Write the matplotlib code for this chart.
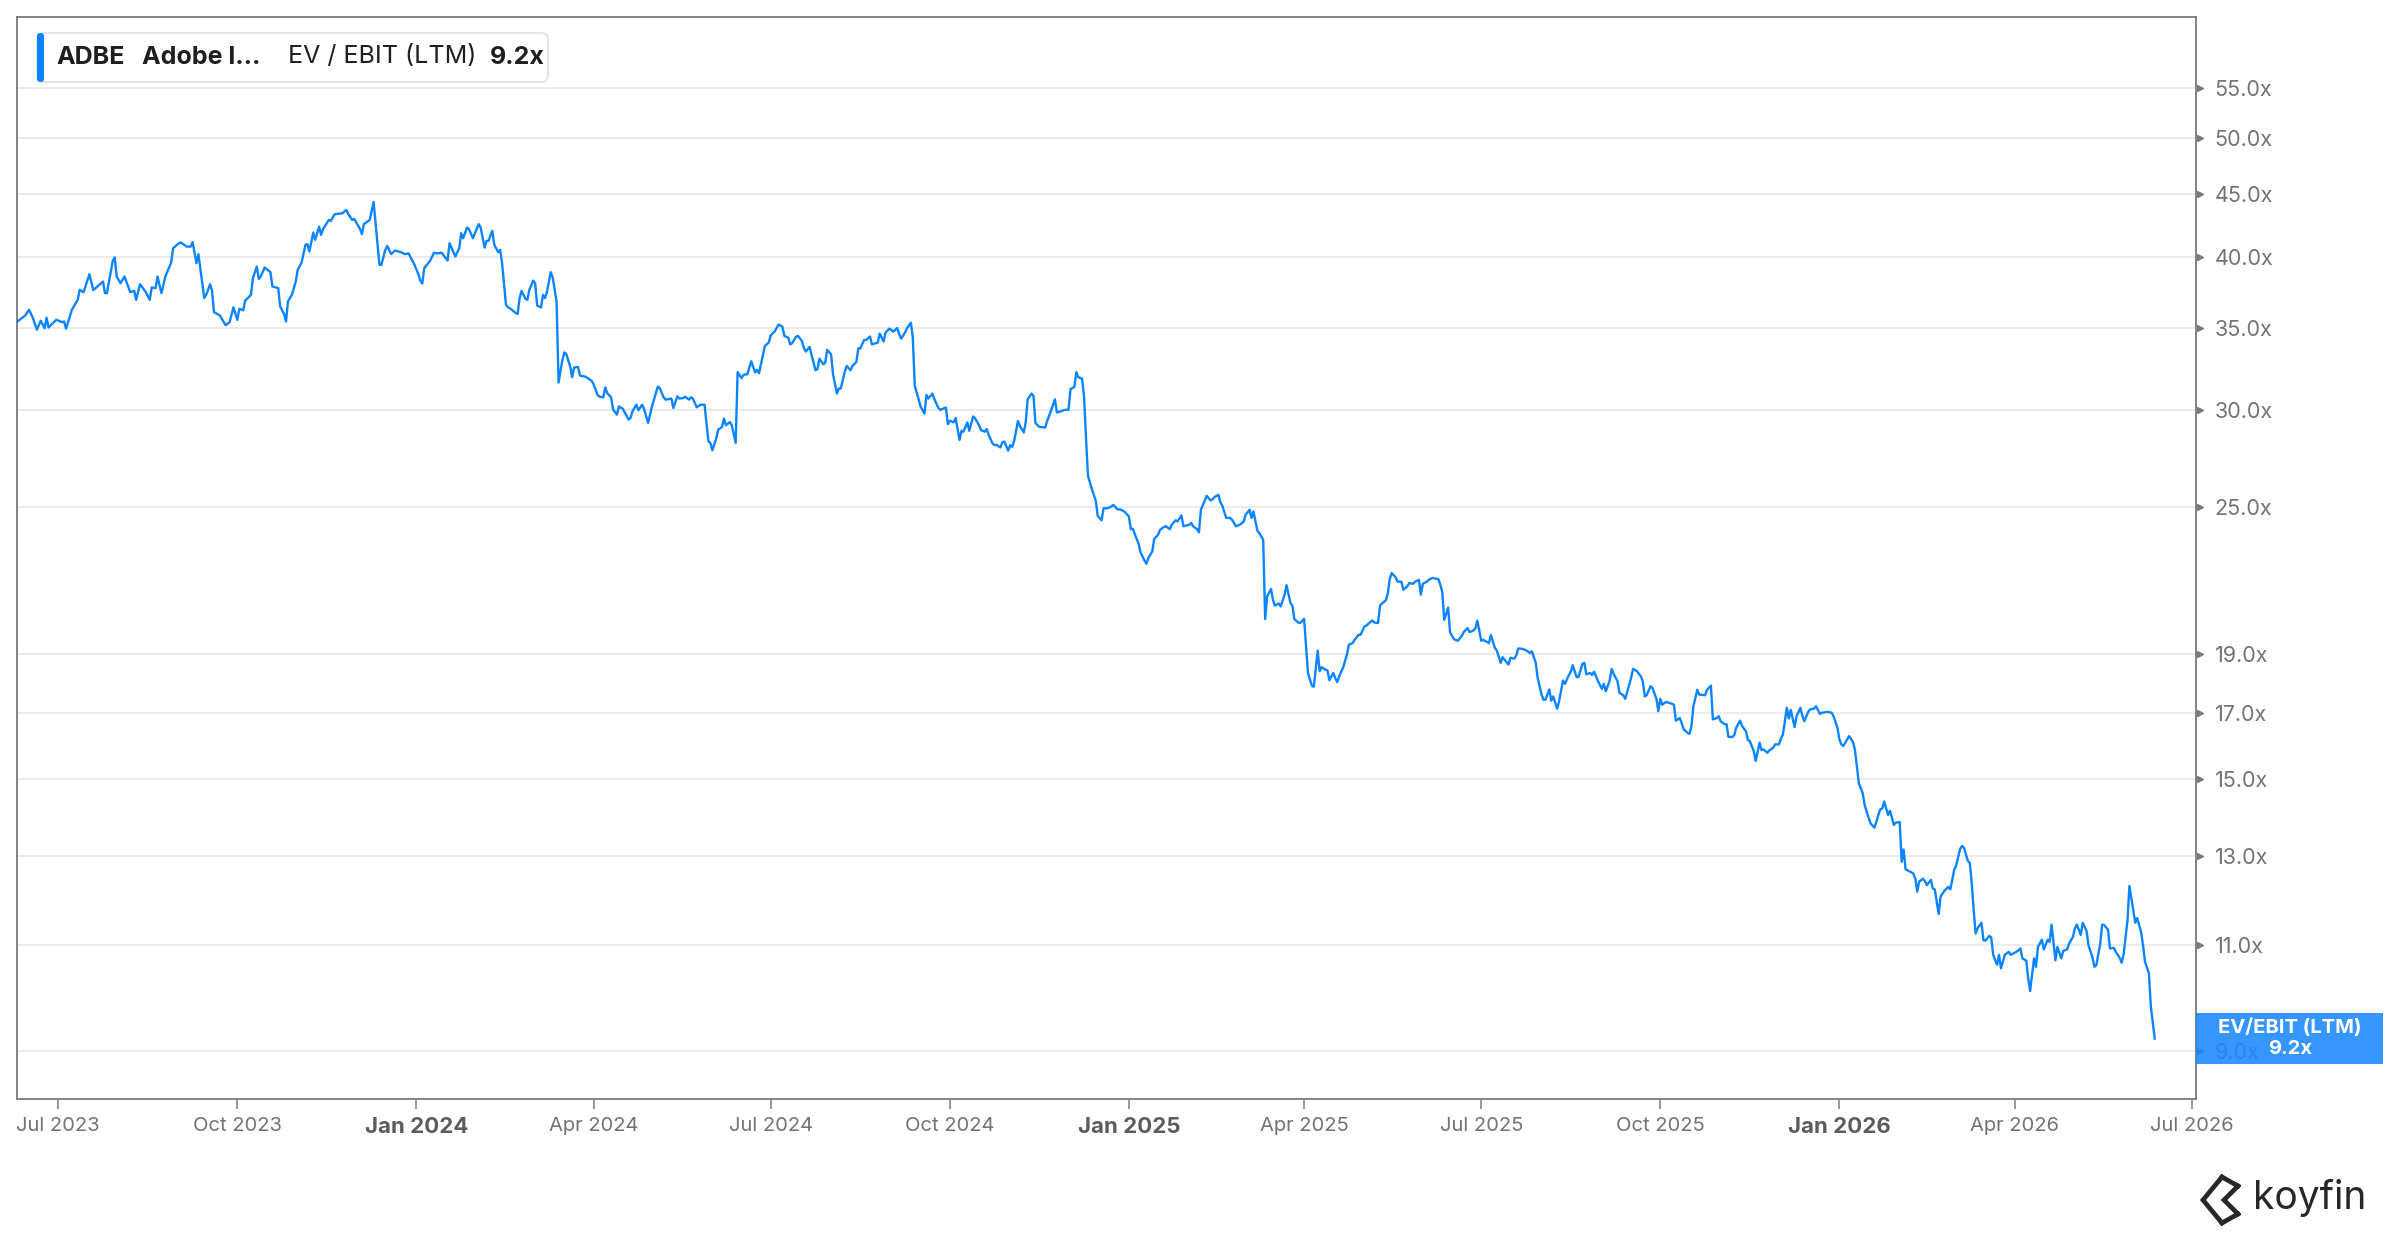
import matplotlib
matplotlib.use("Agg")
import matplotlib.pyplot as plt
import matplotlib.dates as mdates
from matplotlib.patches import Rectangle, FancyBboxPatch
from matplotlib.lines import Line2D
from matplotlib import transforms
import pandas as pd

plt.rcParams['font.family'] = ['Inter', 'DejaVu Sans']

# ---------------- data ----------------
ticker = "ADBE"
company = "Adobe I\u2026"
metric = "EV / EBIT (LTM)"
metric_short = "EV/EBIT (LTM)"
last_label = "9.2x"

days_2023 = ["06-10","06-14","06-16","06-18","06-20","06-22","06-24","06-25","06-26","06-30",
             "07-03","07-04","07-05","07-08","07-11","07-12","07-14","07-17","07-19","07-24","07-25","07-26","07-29","07-30","07-31",
             "08-02","08-04","08-07","08-09","08-10","08-12","08-15","08-17","08-18","08-20","08-21","08-23","08-25","08-28","08-29",
             "09-01","09-02","09-05","09-07","09-08","09-10","09-11","09-14","09-15","09-17","09-18","09-19","09-22","09-25","09-27","09-29",
             "10-01","10-02","10-04","10-05","10-08","10-09","10-11","10-12","10-13","10-15","10-18","10-19","10-22","10-23","10-25","10-26","10-27","10-29","10-31",
             "11-01","11-03","11-05","11-06","11-07","11-09","11-10","11-12","11-13","11-14","11-17","11-18","11-20","11-24","11-26","11-27","11-29","11-30",
             "12-03","12-04","12-05","12-08","12-10","12-13","12-14","12-16","12-17","12-19","12-21","12-24","12-26","12-28","12-31"]
vals_2023 = [35.45,35.85,36.24,35.67,34.90,35.50,35.00,35.70,35.05,35.56,
             35.40,35.45,34.97,36.24,36.92,37.62,37.45,38.74,37.60,38.21,37.39,37.39,39.73,39.98,38.57,
             38.09,38.57,37.45,37.55,36.92,38.02,37.45,36.92,37.79,37.74,38.57,37.39,38.57,39.60,40.68,
             41.06,41.12,40.80,40.80,41.15,39.55,40.23,37.04,37.27,38.02,37.55,36.08,35.85,35.20,35.40,36.40,
             35.56,36.30,36.20,36.86,37.27,38.45,39.30,38.40,38.57,39.23,38.89,37.86,37.74,36.47,35.94,35.45,36.81,37.27,38.21,
             39.06,39.60,40.94,40.99,40.43,41.89,41.32,42.37,41.71,42.16,42.90,42.82,43.36,43.44,43.71,43.36,42.90,42.98,
             42.18,41.76,42.56,42.90,44.37,39.43,39.43,40.55,40.86,40.23,40.50,40.38,40.23,40.28,39.43]

days_2024 = ["01-02","01-03","01-04","01-05","01-08","01-10","01-12","01-14","01-16","01-17","01-18","01-21","01-23","01-24","01-25","01-27","01-28","01-30",
             "02-02","02-03","02-05","02-06","02-07","02-09","02-10","02-12","02-13","02-14","02-16","02-17","02-19","02-21","02-22","02-23","02-24","02-26","02-27","02-28",
             "03-01","03-02","03-03","03-05","03-06","03-07","03-08","03-10","03-11","03-13","03-14","03-16","03-17","03-18","03-20","03-21","03-22","03-24","03-25","03-28","03-31",
             "04-01","04-03","04-04","04-06","04-07","04-08","04-10","04-11","04-13","04-14","04-16","04-19","04-20","04-21","04-23","04-24","04-26","04-27","04-29",
             "05-01","05-04","05-05","05-07","05-08","05-11","05-12","05-14","05-15","05-17","05-18","05-20","05-21","05-22","05-24","05-26","05-28","05-30","05-31",
             "06-01","06-03","06-04","06-06","06-07","06-08","06-10","06-11","06-13","06-14","06-16","06-17","06-19","06-21","06-23","06-24","06-25","06-27","06-28","06-30",
             "07-01","07-03","07-05","07-07","07-08","07-10","07-11","07-12","07-14","07-15","07-17","07-18","07-19","07-21","07-22","07-24","07-25","07-26","07-28","07-29","07-30",
             "08-01","08-02","08-04","08-05","08-06","08-08","08-09","08-11","08-12","08-14","08-15","08-16","08-18","08-19","08-21","08-22","08-25","08-26","08-28","08-29","08-31",
             "09-02","09-04","09-05","09-06","09-08","09-09","09-11","09-12","09-13","09-15","09-16","09-18","09-19","09-20","09-22","09-23","09-25","09-26","09-27","09-29","09-30",
             "10-01","10-03","10-04","10-06","10-07","10-08","10-10","10-11","10-13","10-14","10-16","10-17","10-19","10-20","10-21","10-23","10-24","10-25","10-27","10-28","10-29","10-31",
             "11-01","11-02","11-03","11-05","11-06","11-08","11-09","11-10","11-12","11-13","11-14","11-16","11-19","11-20","11-22","11-24","11-25","11-28","11-29",
             "12-01","12-02","12-04","12-05","12-06","12-08","12-09","12-10","12-11","12-13","12-15","12-16","12-18","12-19","12-21","12-23","12-24","12-26","12-28","12-30"]
vals_2024 = [38.74,38.26,38.07,39.18,39.73,40.33,40.28,40.33,39.93,39.75,41.06,40.05,40.68,41.84,41.45,42.29,42.16,41.45,
             42.56,42.29,40.73,41.24,41.24,42.03,40.94,40.38,40.55,39.55,36.58,36.42,36.24,36.01,35.96,37.04,37.55,36.99,36.92,37.62,
             38.28,38.09,36.53,36.40,37.27,37.04,37.45,38.89,38.50,36.81,31.61,32.98,33.45,33.34,32.57,31.93,32.51,32.55,32.03,31.95,31.71,
             31.51,30.89,30.78,30.74,31.32,30.99,30.74,30.05,29.76,30.22,30.09,29.48,29.58,29.95,30.32,30.01,30.32,30.05,29.30,
             30.22,31.37,31.28,30.74,30.61,30.67,30.13,30.80,30.67,30.70,30.78,30.61,30.74,30.67,30.17,30.32,30.32,28.31,28.22,
             27.83,28.45,28.93,29.08,29.54,29.17,29.35,29.17,28.22,32.23,31.87,32.07,32.11,32.90,32.21,32.37,32.17,33.27,33.86,34.07,
             34.54,34.78,35.24,35.11,34.50,34.39,33.96,34.03,34.44,34.50,34.18,33.75,33.50,33.79,33.27,32.35,32.41,33.06,32.71,32.81,33.61,
             33.33,32.11,30.96,31.26,31.26,32.23,32.61,32.35,32.61,32.85,33.71,33.69,34.24,34.24,34.46,33.96,34.07,34.65,34.14,34.72,34.98,
             34.78,35.02,34.61,34.33,34.72,35.00,35.37,34.39,31.41,30.63,30.21,29.82,30.88,30.67,30.96,30.67,30.16,30.03,30.07,30.16,29.23,
             29.42,29.33,29.57,28.38,28.87,28.82,29.33,28.87,29.66,29.55,29.18,28.91,28.82,28.96,28.64,28.19,28.10,28.12,27.98,28.25,28.29,27.81,
             28.10,28.01,28.29,29.40,29.14,28.78,29.33,30.63,30.96,30.82,29.29,29.08,29.05,29.40,29.98,30.63,29.88,29.98,30.03,
             30.03,31.22,31.35,32.23,31.93,31.83,30.72,28.42,26.52,25.87,25.31,24.60,24.40,24.96,24.96,25.04,25.12,24.92,24.89,24.78]

days_2025 = ["01-01","01-02","01-03","01-05","01-06","01-07","01-09","01-10","01-11","01-13","01-14","01-16","01-17","01-19","01-20","01-22","01-23","01-25","01-26","01-28","01-29",
             "02-01","02-02","02-03","02-05","02-06","02-07","02-09","02-10","02-12","02-13","02-14","02-16","02-17","02-18","02-20","02-22","02-23","02-25","02-27",
             "03-01","03-02","03-04","03-05","03-06","03-08","03-09","03-11","03-12","03-13","03-15","03-16","03-17","03-19","03-20","03-22","03-23","03-25","03-26","03-27","03-29","03-30",
             "04-01","04-02","04-03","04-05","04-06","04-08","04-09","04-10","04-12","04-13","04-14","04-16","04-17","04-18","04-20","04-21","04-23","04-24","04-26","04-27","04-29","04-30",
             "05-02","05-03","05-04","05-06","05-07","05-09","05-10","05-11","05-13","05-14","05-15","05-16","05-18","05-19","05-21","05-22","05-24","05-25","05-27","05-28","05-30","05-31",
             "06-01","06-03","06-04","06-06","06-07","06-09","06-10","06-11","06-12","06-14","06-15","06-17","06-19","06-21","06-22","06-24","06-25","06-27","06-28","06-29",
             "07-01","07-02","07-03","07-05","07-06","07-08","07-09","07-11","07-12","07-14","07-15","07-16","07-18","07-19","07-20","07-22","07-24","07-26","07-27","07-29","07-30",
             "08-01","08-02","08-03","08-05","08-06","08-07","08-09","08-10","08-12","08-13","08-15","08-16","08-17","08-19","08-20","08-22","08-23","08-24","08-26","08-27","08-28","08-30",
             "09-01","09-02","09-03","09-05","09-06","09-07","09-09","09-10","09-12","09-13","09-14","09-16","09-17","09-19","09-21","09-22","09-23","09-24","09-26","09-27","09-29","09-30",
             "10-01","10-02","10-04","10-06","10-08","10-09","10-11","10-12","10-13","10-15","10-16","10-17","10-18","10-20","10-21","10-24","10-25","10-27","10-28","10-30","10-31",
             "11-01","11-03","11-04","11-05","11-07","11-08","11-09","11-11","11-12","11-14","11-15","11-16","11-18","11-19","11-21","11-22","11-23","11-25","11-26","11-28","11-29",
             "12-01","12-02","12-03","12-05","12-06","12-07","12-09","12-10","12-12","12-13","12-14","12-16","12-17","12-19","12-20","12-22","12-23","12-26","12-28","12-29","12-31"]
vals_2025 = [24.58,24.00,24.02,23.56,23.35,22.97,22.63,22.49,22.73,23.02,23.56,23.75,23.97,24.10,24.13,24.00,24.20,24.40,24.35,24.63,24.13,
             24.20,24.28,24.13,24.00,23.86,24.89,25.33,25.55,25.33,25.39,25.49,25.60,25.24,25.08,24.51,24.51,24.43,24.13,24.20,
             24.35,24.66,24.89,24.51,24.81,23.93,23.82,23.53,20.27,21.15,21.45,21.02,20.79,20.87,20.76,21.22,21.60,20.89,20.79,20.27,20.14,20.12,
             20.28,19.26,18.32,17.89,17.85,19.10,18.38,18.52,18.43,18.41,18.07,18.32,18.15,18.01,18.36,18.49,18.96,19.32,19.38,19.50,19.68,19.68,
             19.99,20.02,20.09,20.22,20.14,20.12,20.79,20.87,21.00,21.26,21.85,22.10,21.93,21.75,21.74,21.42,21.55,21.69,21.66,21.74,21.82,21.22,
             21.66,21.74,21.82,21.90,21.88,21.85,21.62,21.32,20.24,20.71,19.77,19.52,19.46,19.64,19.78,19.93,19.78,19.84,19.92,20.21,
             19.46,19.50,19.45,19.38,19.67,19.20,19.11,18.67,18.87,18.70,18.61,18.85,18.82,18.93,19.18,19.17,19.12,19.02,19.08,18.67,18.15,
             17.59,17.42,17.42,17.76,17.39,17.53,17.13,17.37,18.06,17.95,18.24,18.36,18.59,18.18,18.18,18.64,18.67,18.27,18.32,18.25,18.36,18.04,
             17.78,17.95,17.70,18.06,18.46,18.29,18.04,17.65,17.57,17.45,17.68,18.15,18.46,18.38,18.20,18.04,17.53,17.57,17.87,17.81,17.45,17.05,
             17.45,17.26,17.35,17.31,17.26,16.75,16.83,16.67,16.48,16.37,16.34,16.58,17.21,17.75,17.59,17.57,17.75,17.89,16.79,16.83,16.89,
             16.73,16.64,16.64,16.25,16.24,16.30,16.53,16.75,16.58,16.42,16.15,16.12,15.82,15.53,16.07,15.85,15.87,15.77,15.84,15.92,16.02,
             16.02,16.20,16.32,17.16,16.82,17.09,16.55,16.89,17.16,16.89,16.73,17.03,17.11,17.13,17.21,16.96,17.00,17.03,17.00,16.89,16.53]

days_2026 = ["01-01","01-02","01-03","01-05","01-06","01-08","01-09","01-10","01-11","01-13","01-14","01-16","01-17","01-19","01-20","01-21","01-22","01-23","01-24","01-26","01-27","01-29","01-30","01-31",
             "02-01","02-02","02-03","02-04","02-06","02-08","02-09","02-10","02-11","02-13","02-14","02-15","02-17","02-18","02-19","02-21","02-22","02-24","02-26","02-27",
             "03-01","03-02","03-04","03-05","03-06","03-08","03-09","03-10","03-11","03-12","03-13","03-15","03-16","03-17","03-19","03-20","03-21","03-23","03-24","03-25","03-27","03-29","03-30",
             "04-01","04-03","04-04","04-05","04-07","04-08","04-09","04-11","04-12","04-13","04-15","04-16","04-18","04-19","04-20","04-22","04-23","04-25","04-26","04-28","04-29",
             "05-01","05-02","05-03","05-05","05-06","05-08","05-09","05-11","05-12","05-13","05-15","05-16","05-17","05-19","05-20","05-22","05-23","05-25","05-26","05-27","05-29","05-30",
             "06-01","06-02","06-03","06-05","06-06","06-07","06-09","06-10","06-12"]
vals_2026 = [16.17,16.02,15.97,16.17,16.27,16.09,15.85,15.36,14.89,14.61,14.29,13.96,13.81,13.70,13.85,14.03,14.18,14.20,14.39,14.03,14.14,13.77,13.83,13.84,
             13.84,12.85,13.15,12.67,12.62,12.57,12.45,12.15,12.38,12.45,12.38,12.30,12.42,12.22,12.20,11.65,12.04,12.17,12.26,12.20,
             12.66,12.76,13.16,13.24,13.19,12.87,12.82,12.34,11.73,11.23,11.34,11.46,11.09,11.08,11.18,11.15,10.79,10.59,10.79,10.52,10.79,10.85,10.79,
             10.83,10.88,10.92,10.72,10.67,10.32,10.08,10.72,10.55,10.95,11.10,10.90,11.10,11.05,11.42,10.68,10.95,10.72,10.87,10.90,11.02,
             11.16,11.34,11.42,11.20,11.46,11.28,10.98,10.74,10.55,10.58,11.02,11.42,11.41,11.31,10.92,10.93,10.85,10.73,10.63,10.79,11.51,12.28,
             11.73,11.46,11.56,11.26,10.98,10.65,10.42,9.79,9.22]

y_ticks = [9, 11, 13, 15, 17, 19, 25, 30, 35, 40, 45, 50, 55]
x_ticks = ["2023-07-01", "2023-10-01", "2024-01-01", "2024-04-01", "2024-07-01", "2024-10-01",
           "2025-01-01", "2025-04-01", "2025-07-01", "2025-10-01", "2026-01-01", "2026-04-01", "2026-07-01"]

dates = pd.to_datetime([f"2023-{d}" for d in days_2023] + [f"2024-{d}" for d in days_2024] +
                       [f"2025-{d}" for d in days_2025] + [f"2026-{d}" for d in days_2026])
values = vals_2023 + vals_2024 + vals_2025 + vals_2026

# ---------------- styling ----------------
LINE = '#0a84ff'
BOX = '#1a88ff'
FRAME = '#7a7a7a'
TXT = '#737373'
W, H = 2400, 1240

fig = plt.figure(figsize=(W / 100, H / 100), dpi=100)
fig.patch.set_facecolor('white')
ax = fig.add_axes([17 / W, 141 / H, (2196 - 17) / W, (1223 - 141) / H])

ax.plot(dates, values, color=LINE, lw=1.7, zorder=4, solid_joinstyle='round')

ax.set_yscale('log')
ax.set_ylim(8.23, 62.8)
x0 = mdates.date2num(pd.Timestamp("2023-07-01"))
ax.set_xlim(x0 - 21.2, x0 + 1098.2)

ax.yaxis.tick_right()
ax.yaxis.set_minor_locator(matplotlib.ticker.NullLocator())
ax.set_yticks(y_ticks)
ax.set_yticklabels([f"{v:.1f}x" for v in y_ticks])
ax.tick_params(axis='y', which='both', length=0, pad=13.5, labelsize=15.5, labelcolor=TXT)

xt = pd.to_datetime(x_ticks)
ax.set_xticks(mdates.date2num(xt))
ax.set_xticklabels([d.strftime('%b %Y') for d in xt])
ax.xaxis.set_minor_locator(matplotlib.ticker.NullLocator())
ax.tick_params(axis='x', length=7, width=1.1, color=FRAME, pad=6, labelsize=14.5, labelcolor=TXT)
for d, lab in zip(xt, ax.get_xticklabels()):
    if d.month == 1:
        lab.set_fontweight('bold')
        lab.set_color('#5c5c5c')
        lab.set_fontsize(16)

ax.grid(axis='y', color='#e9e9e9', lw=1.3)
ax.grid(axis='x', visible=False)
ax.set_axisbelow(True)
for s in ax.spines.values():
    s.set_color(FRAME)
    s.set_linewidth(1.3)

# small triangular y-tick markers on the right spine
tri_tr = transforms.offset_copy(transforms.blended_transform_factory(ax.transAxes, ax.transData),
                                fig=fig, x=3.5, y=0, units='dots')
ax.plot([1] * len(y_ticks), y_ticks, linestyle='none', marker='>', markersize=4.5,
        color=FRAME, transform=tri_tr, clip_on=False, zorder=5)

# legend box (top-left)
fig.add_artist(FancyBboxPatch((37, H - 82), 511, 49, boxstyle="round,pad=0,rounding_size=7",
                              transform=None, fc='white', ec='#e4e4e4', lw=1.5, zorder=6))
fig.add_artist(FancyBboxPatch((37, H - 82), 7, 49, boxstyle="round,pad=0,rounding_size=3",
                              transform=None, fc=LINE, ec='none', zorder=7))
ly = (H - 57) / H
fig.text(56 / W, ly, ticker, fontsize=18, fontweight='bold', color='#1f1f1f', va='center', zorder=8)
fig.text(142 / W, ly, company, fontsize=18, fontweight='bold', color='#1f1f1f', va='center', zorder=8)
fig.text(288 / W, ly, metric, fontsize=18, color='#1f1f1f', va='center', zorder=8)
fig.text(490 / W, ly, last_label, fontsize=18, fontweight='bold', color='#1f1f1f', va='center', zorder=8)

# last-value label box on the right axis
bt = transforms.blended_transform_factory(ax.transAxes, ax.transData)
bx, by = bt.transform((1.0, values[-1]))
fig.add_artist(Rectangle((bx, by - 25.5), 187, 51, transform=None, fc=BOX, ec='none', alpha=0.88, zorder=9))
fig.text((bx + 94) / W, (by + 11) / H, metric_short, fontsize=14.5, fontweight='bold', color='white',
         ha='center', va='center', zorder=10)
fig.text((bx + 94) / W, (by - 10) / H, last_label, fontsize=14.5, fontweight='bold', color='white',
         ha='center', va='center', zorder=10)

# koyfin watermark
fig.add_artist(Line2D([2222, 2203, 2222], [H - 1177, H - 1200, H - 1223], transform=None,
                      color='#24272b', lw=3.4, solid_joinstyle='miter'))
fig.add_artist(Line2D([2238, 2224, 2238], [H - 1186, H - 1200, H - 1214], transform=None,
                      color='#24272b', lw=3.4, solid_joinstyle='miter'))
fig.add_artist(Line2D([2222, 2238], [H - 1177, H - 1186], transform=None, color='#24272b', lw=3.4))
fig.add_artist(Line2D([2222, 2238], [H - 1223, H - 1214], transform=None, color='#24272b', lw=3.4))
fig.text(2253 / W, (H - 1198) / H, "koyfin", fontsize=28, color='#24272b', va='center', ha='left')

fig.savefig("out.png", dpi=100, facecolor='white')
